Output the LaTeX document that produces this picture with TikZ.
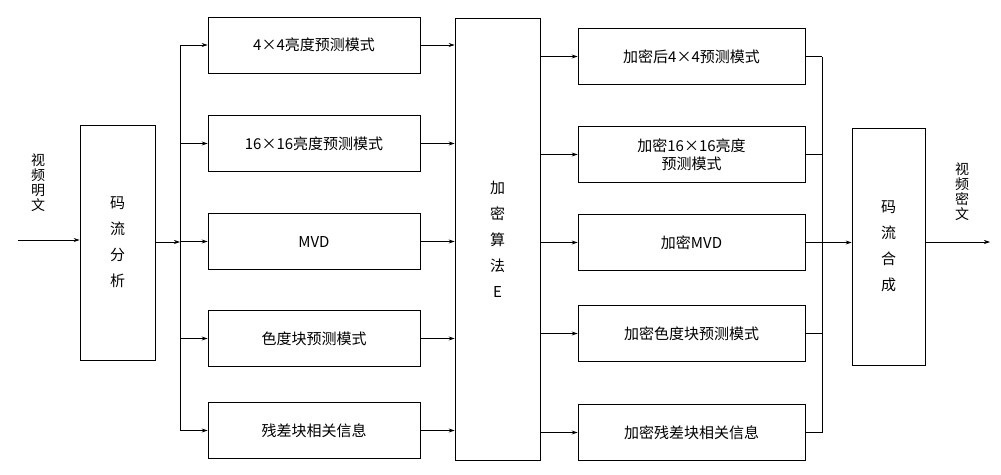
\documentclass[tikz,border=0pt]{standalone}
\usepackage{fontspec}
\newfontfamily\cjk{Noto Sans CJK SC}
\usetikzlibrary{arrows.meta}
\begin{document}
\begin{tikzpicture}[x=1pt,y=-1pt,
 bx/.style={draw,line width=0.8pt,inner sep=0pt,font=\cjk\fontsize{15}{18}\selectfont,align=center},
 ar/.style={-{Stealth[length=6pt,width=4pt]},line width=0.7pt},
 ln/.style={line width=0.7pt}]
\useasboundingbox (0,0) rectangle (1001,474);
\node[bx,minimum width=75pt,minimum height=235pt] (A) at (117.5,242.5) {码\\[8pt]流\\[8pt]分\\[8pt]析};
\node[bx,minimum width=85pt,minimum height=442pt] (E) at (497.5,239) {加\\[8pt]密\\[8pt]算\\[8pt]法\\[8pt]E};
\node[bx,minimum width=73pt,minimum height=237pt] (C) at (888.5,246.5) {码\\[8pt]流\\[8pt]合\\[8pt]成};
\foreach \n/\y/\t in {L1/45/4×4亮度预测模式,L2/143.5/16×16亮度预测模式,L3/241.5/MVD,L4/338.5/色度块预测模式,L5/430.5/残差块相关信息}
  \node[bx,minimum width=212pt,minimum height=56pt] (\n) at (314,\y) {\t};
\foreach \n/\y/\t in {R1/56.5/加密后4×4预测模式,R2/154.5/加密16×16亮度\\预测模式,R3/242.5/加密MVD,R4/333.5/加密色度块预测模式,R5/432.5/加密残差块相关信息}
  \node[bx,minimum width=227pt,minimum height=56pt] (\n) at (691.5,\y) {\t};
\node[font=\cjk\fontsize{14}{15}\selectfont,align=center] (in) at (38,183) {视\\频\\明\\文};
\node[font=\cjk\fontsize{14}{15}\selectfont,align=center] (out) at (962,192) {视\\频\\密\\文};
\coordinate (i0) at (18,240);
\coordinate (o0) at (990,242);
\draw[ar] (i0) -- (i0-|A.west);
\coordinate (b) at (180,242);
\draw[ar] (A.east|-b) -- (b);
\draw[ln] (180,45) -- (180,430.5);
\foreach \n in {L1,L2,L3,L4,L5}{
  \draw[ar] (180,0|-\n.west) -- (\n.west);
  \draw[ar] (\n.east) -- (E.west|-\n.east);
  }
\foreach \n in {R1,R2,R3,R4,R5}{
  \draw[ar] (E.east|-\n.west) -- (\n.west);
  \draw[ln] (\n.east) -- (822,0|-\n.east);
  }
\draw[ln] (822,56.5) -- (822,432.5);
\draw[ar] (822,242.5) -- (C.west|-0,242.5);
\draw[ar] (C.east|-o0) -- (o0);
\end{tikzpicture}
\end{document}
